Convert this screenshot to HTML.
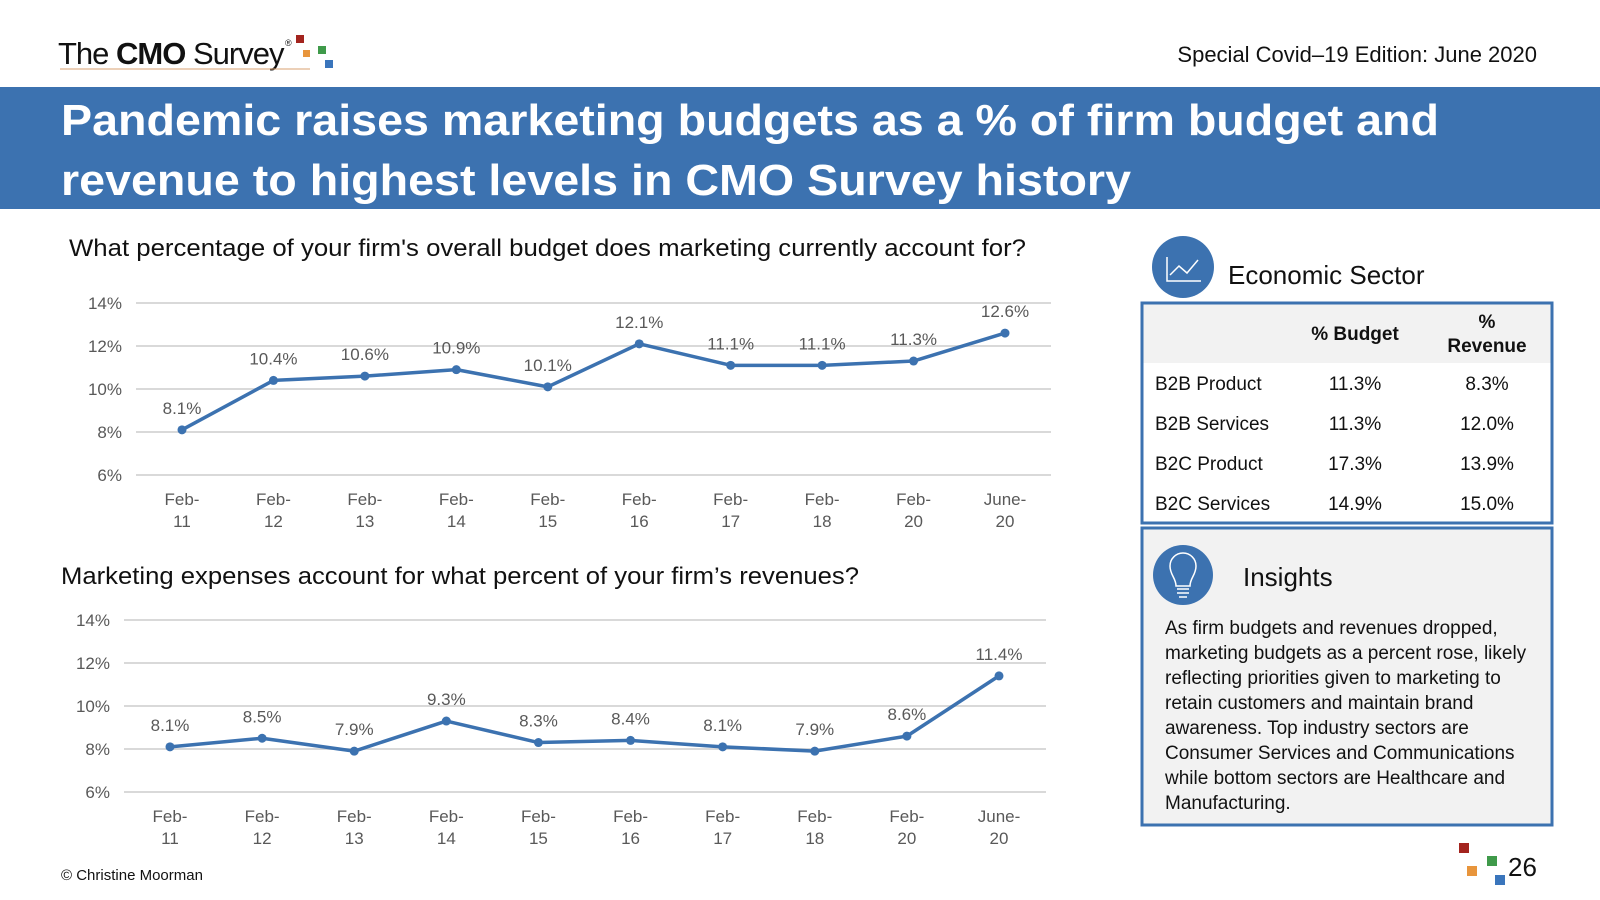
<!DOCTYPE html>
<html><head><meta charset="utf-8"><style>
html,body{margin:0;padding:0;background:#fff}
svg{display:block}
text{font-family:"Liberation Sans",sans-serif}
</style></head><body>
<svg id="page" width="1600" height="900" viewBox="0 0 1600 900" xmlns="http://www.w3.org/2000/svg">
<g>
<text x="58" y="64" font-size="31" fill="#111" letter-spacing="-1"><tspan>The </tspan><tspan font-weight="bold">CMO</tspan><tspan> Survey</tspan></text>
<text x="285" y="46" font-size="9" fill="#111">®</text>
<line x1="60" y1="69" x2="310" y2="69" stroke="#d9a070" stroke-width="1"/>
<rect x="296" y="35" width="8" height="8" fill="#a3241e"/>
<rect x="303" y="50" width="7" height="7" fill="#e8953c"/>
<rect x="318" y="46" width="8" height="8" fill="#3f9a4a"/>
<rect x="325" y="60" width="8" height="8" fill="#3a75bc"/>
</g>
<text x="1537" y="62" font-size="22" fill="#111" text-anchor="end">Special Covid–19 Edition: June 2020</text>
<rect x="0" y="87" width="1600" height="122" fill="#3c72b0"/>
<text x="61" y="135" font-size="44" font-weight="bold" fill="#fff" textLength="1378" lengthAdjust="spacingAndGlyphs">Pandemic raises marketing budgets as a % of firm budget and</text>
<text x="61" y="195" font-size="44" font-weight="bold" fill="#fff" textLength="1070" lengthAdjust="spacingAndGlyphs">revenue to highest levels in CMO Survey history</text>

<text x="69" y="256" font-size="24" fill="#111" textLength="957" lengthAdjust="spacingAndGlyphs">What percentage of your firm's overall budget does marketing currently account for?</text>
<g id="chart1"></g>
<text x="61" y="584" font-size="24" fill="#111" textLength="798" lengthAdjust="spacingAndGlyphs">Marketing expenses account for what percent of your firm’s revenues?</text>
<g id="chart2"></g>

<g>
<circle cx="1183" cy="267" r="31" fill="#3c72b0"/>
<polyline points="1167,257 1167,281 1201,281" fill="none" stroke="#fff" stroke-width="1.5"/>
<polyline points="1170,275 1179,266 1187,273 1198,260" fill="none" stroke="#fff" stroke-width="1.5"/>
</g>
<text x="1228" y="284" font-size="26" fill="#111">Economic Sector</text>
<g>
<rect x="1143" y="304" width="408" height="59" fill="#f2f2f2"/>
<rect x="1142" y="303" width="410" height="220" fill="none" stroke="#3c72b0" stroke-width="3"/>
<g font-size="19" font-weight="bold" fill="#111" text-anchor="middle">
<text x="1355" y="340">% Budget</text>
<text x="1487" y="328">%</text><text x="1487" y="352">Revenue</text>
</g>
<g font-size="19" fill="#111">
<text x="1155" y="390">B2B Product</text><text x="1355" y="390" text-anchor="middle">11.3%</text><text x="1487" y="390" text-anchor="middle">8.3%</text>
<text x="1155" y="430">B2B Services</text><text x="1355" y="430" text-anchor="middle">11.3%</text><text x="1487" y="430" text-anchor="middle">12.0%</text>
<text x="1155" y="470">B2C Product</text><text x="1355" y="470" text-anchor="middle">17.3%</text><text x="1487" y="470" text-anchor="middle">13.9%</text>
<text x="1155" y="510">B2C Services</text><text x="1355" y="510" text-anchor="middle">14.9%</text><text x="1487" y="510" text-anchor="middle">15.0%</text>
</g>
</g>
<g>
<rect x="1142" y="528" width="410" height="297" fill="#f2f2f2" stroke="#3c72b0" stroke-width="3"/>
<circle cx="1183" cy="575" r="30" fill="#3c72b0"/>
<path d="M1176,586 C1176,578 1170,575 1170,566 A13,13 0 0 1 1196,566 C1196,575 1190,578 1190,586 Z M1177,589 h12 M1177,593 h12 M1179,597 h8" fill="none" stroke="#fff" stroke-width="1.5"/>
<text x="1243" y="586" font-size="26" fill="#111">Insights</text>
<g font-size="19" fill="#111">
<text x="1165" y="634">As firm budgets and revenues dropped,</text>
<text x="1165" y="659">marketing budgets as a percent rose, likely</text>
<text x="1165" y="684">reflecting priorities given to marketing to</text>
<text x="1165" y="709">retain customers and maintain brand</text>
<text x="1165" y="734">awareness. Top industry sectors are</text>
<text x="1165" y="759">Consumer Services and Communications</text>
<text x="1165" y="784">while bottom sectors are Healthcare and</text>
<text x="1165" y="809">Manufacturing.</text>
</g>
</g>
<text x="61" y="880" font-size="15" fill="#111">© Christine Moorman</text>
<g>
<rect x="1459" y="843" width="10" height="10" fill="#a3241e"/>
<rect x="1467" y="866" width="10" height="10" fill="#e8953c"/>
<rect x="1487" y="856" width="10" height="10" fill="#3f9a4a"/>
<rect x="1495" y="875" width="10" height="10" fill="#3a75bc"/>
<text x="1508" y="876" font-size="26" fill="#111">26</text>
</g>
</svg>
<script>
const categoriesTop = ["Feb-|11","Feb-|12","Feb-|13","Feb-|14","Feb-|15","Feb-|16","Feb-|17","Feb-|18","Feb-|20","June-|20"];
const budgetValues = [8.1,10.4,10.6,10.9,10.1,12.1,11.1,11.1,11.3,12.6];
const revenueValues = [8.1,8.5,7.9,9.3,8.3,8.4,8.1,7.9,8.6,11.4];
const yTicks = [6,8,10,12,14];
const NS="http://www.w3.org/2000/svg";
function mk(parent,tag,attrs,txt){const e=document.createElementNS(NS,tag);for(const k in attrs)e.setAttribute(k,attrs[k]);if(txt!==undefined)e.textContent=txt;parent.appendChild(e);return e;}
function draw(gid,values,cfg){
  const g=document.getElementById(gid);
  const y=v=>cfg.y0+(v-6)/8*(cfg.y1-cfg.y0);
  const x=i=>cfg.x0+i*(cfg.x1-cfg.x0)/(values.length-1);
  yTicks.forEach(t=>{
    const l=mk(g,'line',{x1:cfg.gl,x2:cfg.gr,y1:y(t),y2:y(t),stroke:'#d9d9d9','stroke-width':2});
    
    
    const tx=mk(g,'text',{x:cfg.gl-14,y:y(t)+6,'font-size':17,fill:'#595959','text-anchor':'end'},t+'%');
    
    
  });
  categoriesTop.forEach((c,i)=>{
    const p=c.split('|');
    const t=mk(g,'text',{x:x(i),y:cfg.ly,'font-size':17,fill:'#595959','text-anchor':'middle'});
    
    
    mk(t,'tspan',{x:x(i),dy:0},p[0]);mk(t,'tspan',{x:x(i),dy:22},p[1]);
  });
  const pl=mk(g,'polyline',{points:values.map((v,i)=>x(i)+','+y(v)).join(' '),fill:'none',stroke:'#3c72b0','stroke-width':3.5,'stroke-linejoin':'round'});
  
  
  values.forEach((v,i)=>{
    const c=mk(g,'circle',{cx:x(i),cy:y(v),r:4.5,fill:'#3c72b0'});
    
    
    const t=mk(g,'text',{x:x(i),y:y(v)-16,'font-size':17,fill:'#595959','text-anchor':'middle'},v.toFixed(1)+'%');
    
    
  });
}
draw('chart1',budgetValues,{x0:182,x1:1005,gl:136,gr:1051,y0:475,y1:303,ly:505});
draw('chart2',revenueValues,{x0:170,x1:999,gl:124,gr:1046,y0:792,y1:620,ly:822});
</script>
</body></html>
